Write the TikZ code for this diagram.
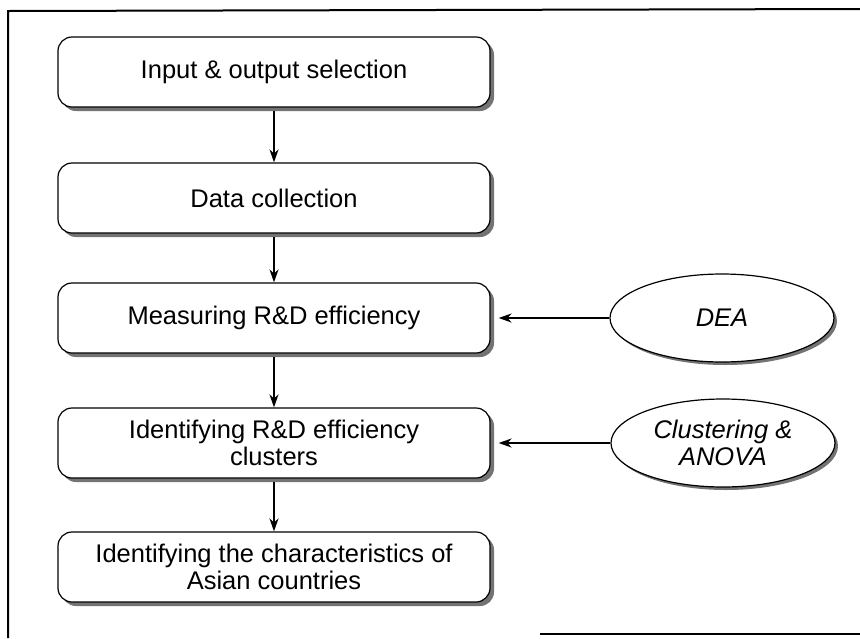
\documentclass[tikz,border=0pt]{standalone}
\usepackage{fontspec}
\setmainfont{Liberation Sans}
\usetikzlibrary{shapes.geometric,shadows,arrows.meta}
\tikzset{
  stepbox/.style={draw=black, line width=1.2pt, rounded corners=14pt, fill=white,
    minimum width=432pt, minimum height=70pt, inner sep=0pt, align=center,
    font=\fontsize{25.5}{27}\selectfont,
    drop shadow={shadow xshift=4pt, shadow yshift=-4pt, fill=black!55, opacity=1}},
  methnode/.style={draw=black, line width=1.2pt, ellipse, fill=white,
    minimum width=224pt, minimum height=88pt, inner sep=0pt, align=center,
    font=\fontsize{25.5}{27}\selectfont\itshape,
    drop shadow={shadow xshift=3pt, shadow yshift=-3pt, fill=black!55, opacity=1}},
  arr/.style={line width=2pt, -{Stealth[length=13pt,width=9pt]}},
  frameline/.style={line width=2pt, black}
}
\begin{document}
\begin{tikzpicture}[x=1pt,y=-1pt]
\useasboundingbox (0,0) rectangle (860,638);
% outer frame
\draw[frameline] (8,638) -- (8,11) -- (860,9);
\draw[frameline] (540,634) -- (860,634);
% steps
\node[stepbox] (b1) at (274,72) {Input \& output selection};
\node[stepbox] (b2) at (274,198) {Data collection};
\node[stepbox] (b3) at (274,318) {Measuring R\&D efficiency};
\node[stepbox] (b4) at (274,443) {Identifying R\&D efficiency\\clusters};
\node[stepbox] (b5) at (274,567) {Identifying the characteristics of\\Asian countries};
% methods
\node[methnode] (dea) at (722,318) {DEA};
\node[methnode] (clu) at (723,443) {Clustering \&\\ANOVA};
% connectors
\draw[arr, shorten <=3pt] (b1) -- (b2);
\draw[arr, shorten <=3pt] (b2) -- (b3);
\draw[arr, shorten <=3pt] (b3) -- (b4);
\draw[arr, shorten <=3pt] (b4) -- (b5);
\draw[arr, shorten >=8pt] (dea) -- (b3);
\draw[arr, shorten >=8pt] (clu) -- (b4);
\end{tikzpicture}
\end{document}
